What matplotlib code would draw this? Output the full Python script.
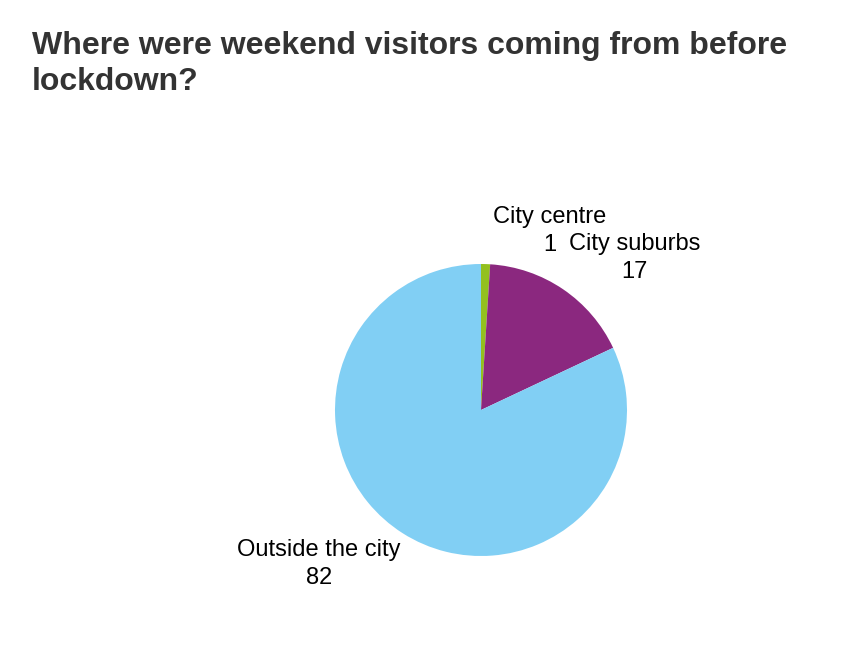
import matplotlib.pyplot as plt

plt.rcParams['font.family'] = ['Liberation Sans', 'DejaVu Sans']

categories = ['City centre', 'City suburbs', 'Outside the city']
values = [1, 17, 82]
colors = ['#93c01f', '#8b287f', '#81cff4']
# label block centres (in pie-radius units)
label_pos = [(0.47, 1.226), (1.05, 1.038), (-1.11, -1.058)]

fig = plt.figure(figsize=(8.44, 6.6), dpi=100)

fig.text(32 / 844, 1 - 31 / 660,
         'Where were weekend visitors coming from before\nlockdown?',
         ha='left', va='top', fontsize=23, fontweight='bold',
         color='#333333', linespacing=1.25)

# square axes holding the pie: centre ~(481, 410) px, radius ~146 px
ax = fig.add_axes([335 / 844, 104 / 660, 292 / 844, 292 / 660])
ax.pie(values, colors=colors, startangle=90, counterclock=False,
       radius=1, wedgeprops={'linewidth': 0})
ax.set_xlim(-1, 1)
ax.set_ylim(-1, 1)
ax.set_aspect('equal')
ax.axis('off')

half_gap = 14 / 146  # half the line gap (28 px) in radius units
for name, val, (x, y) in zip(categories, values, label_pos):
    ax.text(x, y + half_gap, name, ha='center', va='center',
            fontsize=17, color='black', clip_on=False)
    ax.text(x, y - half_gap, str(val), ha='center', va='center',
            fontsize=17, color='black', clip_on=False)

fig.savefig('out.png', dpi=100)
